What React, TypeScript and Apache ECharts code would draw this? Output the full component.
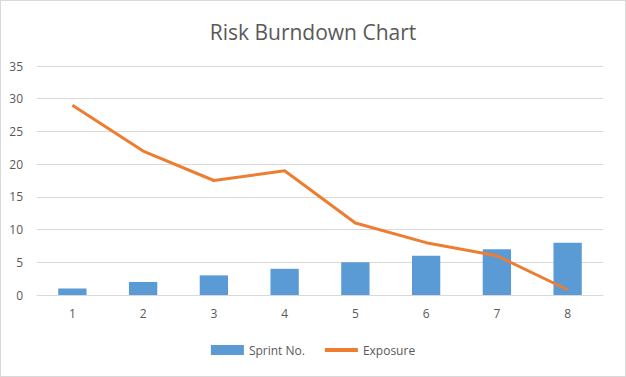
import React, { useEffect, useRef } from "react";
import * as echarts from "echarts";

const categories = ["1", "2", "3", "4", "5", "6", "7", "8"];
const sprintNo = [1, 2, 3, 4, 5, 6, 7, 8];
const exposure = [29, 22, 17.5, 19, 11, 8, 6, 0.8];

export default function App() {
  const ref = useRef<HTMLDivElement>(null);
  useEffect(() => {
    const chart = echarts.init(ref.current!, null, { renderer: "svg" });
    const font = "'Open Sans', 'Noto Sans', sans-serif";
    chart.setOption({
      animation: false,
      backgroundColor: "#ffffff",
      title: {
        text: "Risk Burndown Chart",
        left: "center",
        top: 15,
        textStyle: { color: "#595959", fontSize: 21, fontWeight: "normal", fontFamily: font },
      },
      grid: { left: 36, right: 22, top: 65, bottom: 81, containLabel: false },
      legend: {
        bottom: 15,
        left: "center",
        itemWidth: 33,
        itemHeight: 10,
        itemGap: 18,
        textStyle: { color: "#595959", fontSize: 12, fontFamily: font },
        data: [
          { name: "Sprint No.", icon: "rect" },
          { name: "Exposure", itemStyle: { opacity: 0 }, lineStyle: { width: 4 } },
        ],
      },
      xAxis: {
        type: "category",
        data: categories,
        axisLine: { lineStyle: { color: "#d9d9d9" } },
        axisTick: { show: false },
        axisLabel: { color: "#595959", fontSize: 12, margin: 12, fontFamily: font },
      },
      yAxis: {
        type: "value",
        min: 0,
        max: 35,
        interval: 5,
        axisLine: { show: false },
        axisTick: { show: false },
        splitLine: { lineStyle: { color: "#d9d9d9", width: 1 } },
        axisLabel: { color: "#595959", fontSize: 12, margin: 14, fontFamily: font },
      },
      series: [
        {
          name: "Sprint No.",
          type: "bar",
          data: sprintNo,
          barWidth: "40%",
          itemStyle: { color: "#5b9bd5" },
        },
        {
          name: "Exposure",
          type: "line",
          data: exposure,
          symbol: "none",
          lineStyle: { color: "#ed7d31", width: 3 },
          itemStyle: { color: "#ed7d31" },
        },
      ],
    });
    return () => chart.dispose();
  }, []);
  return (
    <div
      ref={ref}
      style={{
        position: "fixed",
        left: 0,
        top: 0,
        width: 626,
        height: 377,
        boxSizing: "border-box",
        border: "1px solid #d9d9d9",
      }}
    />
  );
}
